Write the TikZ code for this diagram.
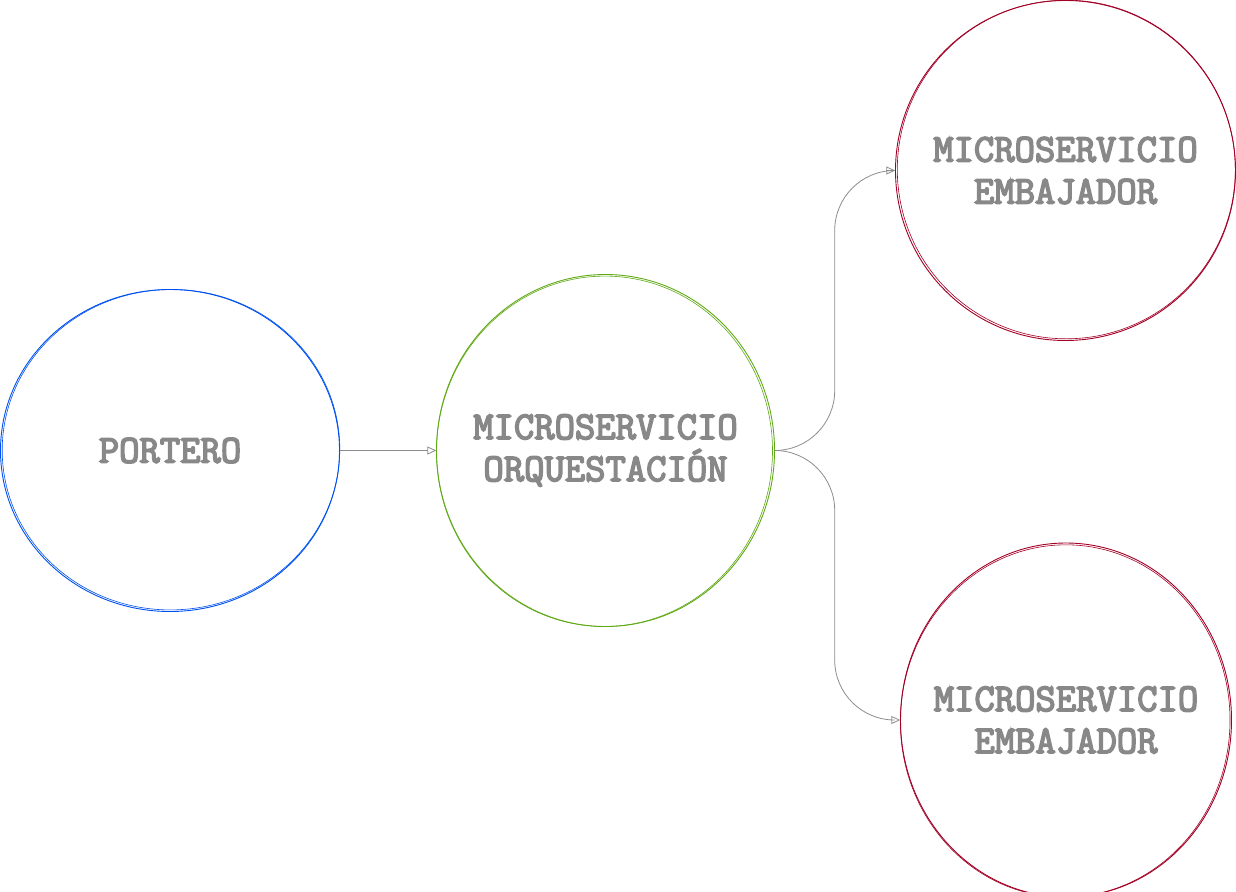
\documentclass[tikz,border=0pt]{standalone}
\usepackage{fontspec}
\setmonofont{Latin Modern Mono}[BoldFont={Latin Modern Mono}, BoldFeatures={FakeBold=4}]
\usetikzlibrary{arrows.meta}
\definecolor{txtgray}{HTML}{888888}
\definecolor{linegray}{HTML}{8C8C8C}
\definecolor{cblue}{HTML}{0050EF}
\definecolor{cgreen}{HTML}{60A917}
\definecolor{cred}{HTML}{A20025}
\tikzset{
  svc/.style={rectangle, draw=none, inner sep=0pt,
    font=\ttfamily\bfseries\fontsize{39.5}{42}\selectfont, text=txtgray, align=center},
  conn/.style={draw=linegray, line width=0.8pt, -{Triangle[open,length=9pt,width=8pt]}},
  rim/.style={line width=0.9pt},
  sketch/.style={line width=0.6pt}
}
\begin{document}
\begin{tikzpicture}[x=1pt,y=-1pt]
\useasboundingbox (0,0) rectangle (1236,891);
% nodes (text + frame size)
\node[svc, minimum width=339pt, minimum height=322pt] (p) at (170,450.5) {PORTERO};
\node[svc, minimum width=338pt, minimum height=352pt] (o) at (605.5,450.5) {MICROSERVICIO\\ORQUESTACIÓN};
\node[svc, minimum width=340pt, minimum height=340pt] (e1) at (1065.5,170.5) {MICROSERVICIO\\EMBAJADOR};
\node[svc, minimum width=331pt, minimum height=354pt] (e2) at (1066,720) {MICROSERVICIO\\EMBAJADOR};
% circles (sketchy double stroke)
\draw[rim, cblue] (p.center) ellipse [x radius=169.5pt, y radius=161pt];
\draw[sketch, cblue] (p.center) ++(1,-0.8) ellipse [x radius=168.8pt, y radius=160.2pt, rotate=2];
\draw[rim, cgreen] (o.center) ellipse [x radius=169pt, y radius=176pt];
\draw[sketch, cgreen] (o.center) ++(-1,0.8) ellipse [x radius=168pt, y radius=175.2pt, rotate=-2];
\draw[rim, cred] (e1.center) ellipse [x radius=170pt, y radius=170pt];
\draw[sketch, cred] (e1.center) ++(0.8,-1) ellipse [x radius=169pt, y radius=169.3pt, rotate=3];
\draw[rim, cred] (e2.center) ellipse [x radius=165.5pt, y radius=177pt];
\draw[sketch, cred] (e2.center) ++(-0.8,1) ellipse [x radius=164.8pt, y radius=176.2pt, rotate=-2];
% connectors
\draw[conn] (p.east) -- (o.west);
\draw[conn, rounded corners=60pt] (o.east) -- ++(60,0) |- (e1.west);
\draw[conn, rounded corners=60pt] (o.east) -- ++(60,0) |- (e2.west);
\end{tikzpicture}
\end{document}
